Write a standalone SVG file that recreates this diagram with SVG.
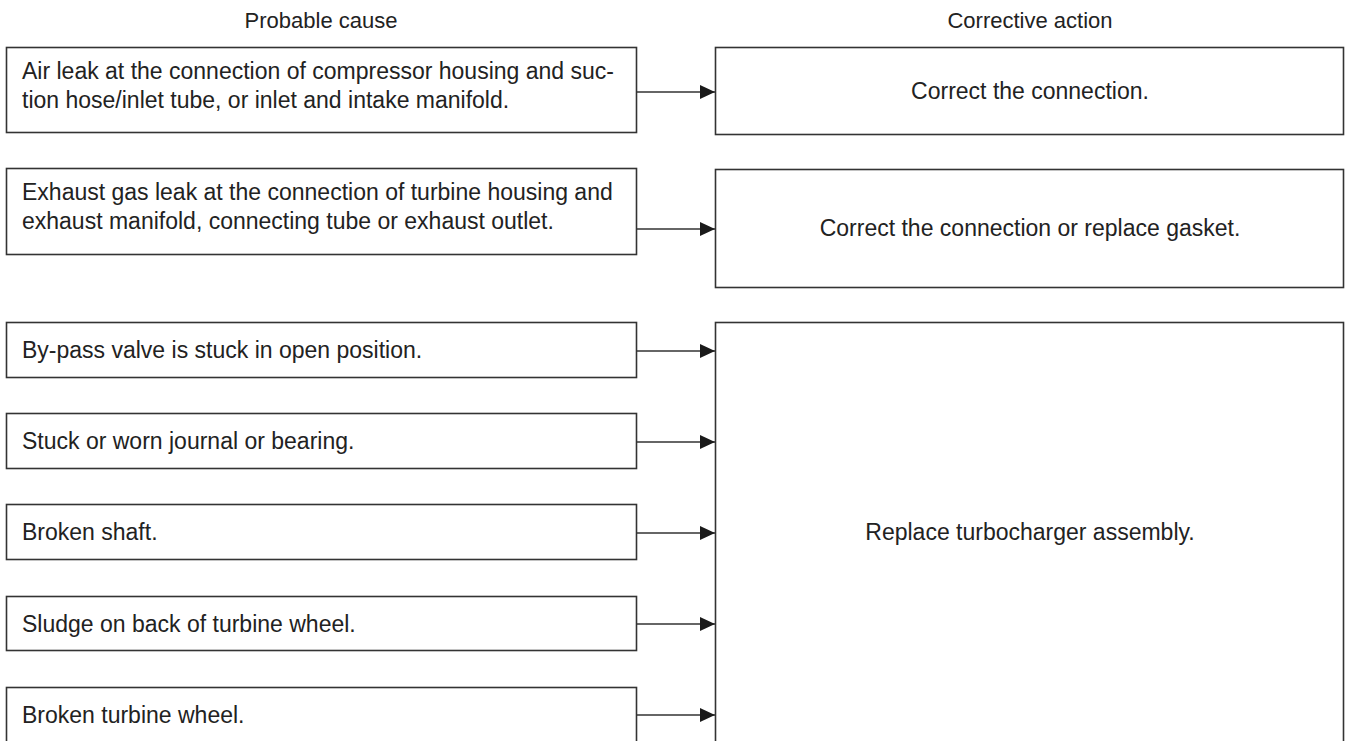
<svg xmlns="http://www.w3.org/2000/svg" width="1345" height="741" viewBox="0 0 1345 741">
<style>
.box{fill:#fff;stroke:#333;stroke-width:1.6}
.t{font-family:"Liberation Sans",Arial,sans-serif;font-size:23px;fill:#222}
.h{font-family:"Liberation Sans",Arial,sans-serif;font-size:22px;fill:#222;text-anchor:middle}
.c{text-anchor:middle}
.conn{stroke:#333;stroke-width:1.6;fill:none}
</style>
<defs>
<marker id="ah" markerUnits="userSpaceOnUse" markerWidth="16" markerHeight="14" refX="15" refY="7" orient="auto">
<path d="M0,0 L15,7 L0,14 Z" fill="#1a1a1a"/>
</marker>
</defs>
<text class="h" x="321" y="28">Probable cause</text>
<text class="h" x="1030" y="28">Corrective action</text>

<g id="c1"><rect class="box" x="6.5" y="47.5" width="630" height="85"/>
<text class="t" x="22" y="79">Air leak at the connection of compressor housing and suc-</text>
<text class="t" x="22" y="108">tion hose/inlet tube, or inlet and intake manifold.</text></g>
<g id="c2"><rect class="box" x="6.5" y="168.5" width="630" height="86"/>
<text class="t" x="22" y="200">Exhaust gas leak at the connection of turbine housing and</text>
<text class="t" x="22" y="229">exhaust manifold, connecting tube or exhaust outlet.</text></g>
<g id="c3"><rect class="box" x="6.5" y="322.5" width="630" height="55"/>
<text class="t" x="22" y="358">By-pass valve is stuck in open position.</text></g>
<g id="c4"><rect class="box" x="6.5" y="413.5" width="630" height="55"/>
<text class="t" x="22" y="449">Stuck or worn journal or bearing.</text></g>
<g id="c5"><rect class="box" x="6.5" y="504.5" width="630" height="55"/>
<text class="t" x="22" y="540">Broken shaft.</text></g>
<g id="c6"><rect class="box" x="6.5" y="596.5" width="630" height="54"/>
<text class="t" x="22" y="632">Sludge on back of turbine wheel.</text></g>
<g id="c7"><rect class="box" x="6.5" y="687.5" width="630" height="60"/>
<text class="t" x="22" y="723">Broken turbine wheel.</text></g>

<g id="a1"><rect class="box" x="715.5" y="47.5" width="628" height="87"/>
<text class="t c" x="1030" y="99">Correct the connection.</text></g>
<g id="a2"><rect class="box" x="715.5" y="169.5" width="628" height="118"/>
<text class="t c" x="1030" y="236">Correct the connection or replace gasket.</text></g>
<g id="a3"><rect class="box" x="715.5" y="322.5" width="628" height="430"/>
<text class="t c" x="1030" y="540">Replace turbocharger assembly.</text></g>

<g id="connectors">
<line class="conn" x1="636.5" y1="92" x2="715" y2="92" marker-end="url(#ah)"/>
<line class="conn" x1="636.5" y1="229" x2="715" y2="229" marker-end="url(#ah)"/>
<line class="conn" x1="636.5" y1="351" x2="715" y2="351" marker-end="url(#ah)"/>
<line class="conn" x1="636.5" y1="442" x2="715" y2="442" marker-end="url(#ah)"/>
<line class="conn" x1="636.5" y1="533" x2="715" y2="533" marker-end="url(#ah)"/>
<line class="conn" x1="636.5" y1="624" x2="715" y2="624" marker-end="url(#ah)"/>
<line class="conn" x1="636.5" y1="715" x2="715" y2="715" marker-end="url(#ah)"/>
</g>
</svg>
